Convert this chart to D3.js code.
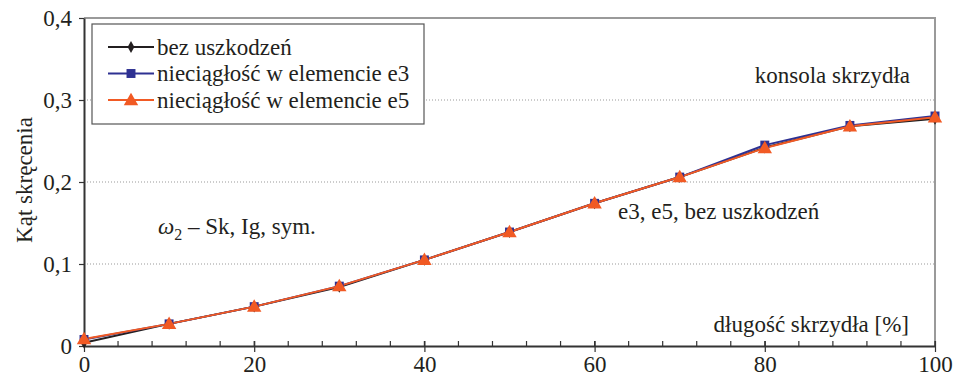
<!DOCTYPE html>
<html>
<head>
<meta charset="utf-8">
<script src="https://cdn.jsdelivr.net/npm/d3@7"></script>
<style>
  body { margin: 0; background: #fff; }
  text { font-family: "Liberation Serif", "DejaVu Serif", serif; fill: #231f20; }
</style>
</head>
<body>
<div id="chart"></div>
<script>
// data
const lengths = [0, 10, 20, 30, 40, 50, 60, 70, 80, 90, 100];
const bezUszkodzen = [0.004, 0.027, 0.048, 0.072, 0.105, 0.139, 0.174, 0.206, 0.242, 0.268, 0.277];
const nieciagloscE3 = [0.008, 0.027, 0.048, 0.073, 0.105, 0.139, 0.174, 0.206, 0.245, 0.269, 0.2805];
const nieciagloscE5 = [0.0085, 0.027, 0.048, 0.073, 0.105, 0.139, 0.174, 0.206, 0.2415, 0.268, 0.279];
const yTicks = [0, 0.1, 0.2, 0.3, 0.4];
const xTicks = [0, 20, 40, 60, 80, 100];
const xMinorTicks = d3.range(0, 101, 4);
const seriesNames = ["bez uszkodzeń", "nieciągłość w elemencie e3", "nieciągłość w elemencie e5"];

const W = 955, H = 379;
const margin = { left: 84, right: 20, top: 18, bottom: 33 };
const width = W - margin.left - margin.right;
const height = H - margin.top - margin.bottom;
const FS = 23;

const svg = d3.select("#chart").append("svg")
  .attr("width", W).attr("height", H);
const g = svg.append("g")
  .attr("transform", "translate(" + margin.left + "," + margin.top + ")");

const x = d3.scaleLinear().domain([0, 100]).range([0, width]);
const y = d3.scaleLinear().domain([0, 0.4]).range([height, 0]);
const fmt = d => d === 0 ? "0" : d3.format(".1f")(d).replace(".", ",");

// grid lines
g.append("g").selectAll("line")
  .data(yTicks.filter(d => d > 0 && d < 0.4))
  .enter().append("line")
  .attr("x1", 0).attr("x2", width)
  .attr("y1", d => y(d)).attr("y2", d => y(d))
  .attr("stroke", "#999").attr("stroke-width", 1)
  .attr("stroke-dasharray", "1,2");

// frame top + right
g.append("path")
  .attr("d", "M0," + y(0.4) + "H" + x(100) + "V" + y(0))
  .attr("fill", "none").attr("stroke", "#9a9a9a").attr("stroke-width", 2);

// x minor ticks (inside)
g.append("g").selectAll("line")
  .data(xMinorTicks)
  .enter().append("line")
  .attr("x1", d => x(d)).attr("x2", d => x(d))
  .attr("y1", height).attr("y2", height - 5)
  .attr("stroke", "#333").attr("stroke-width", 1.2);

// x axis
const xAxis = g.append("g")
  .attr("transform", "translate(0," + height + ")")
  .call(d3.axisBottom(x).tickValues(xTicks).tickSize(6).tickSizeOuter(0));
xAxis.select(".domain").attr("stroke", "#333").attr("stroke-width", 2);
xAxis.selectAll(".tick line").attr("stroke", "#333").attr("stroke-width", 1.2).attr("y1", -5);
xAxis.selectAll(".tick text").attr("font-size", FS).attr("font-family", "Liberation Serif")
  .attr("fill", "#231f20").attr("y", 26).attr("dy", 0);

// y axis
const yAxis = g.append("g")
  .call(d3.axisLeft(y).tickValues(yTicks).tickFormat(fmt).tickSize(5).tickPadding(7).tickSizeOuter(0));
yAxis.select(".domain").attr("stroke", "#333").attr("stroke-width", 2);
yAxis.selectAll(".tick line").attr("stroke", "#333").attr("stroke-width", 1.2);
yAxis.selectAll(".tick text").attr("font-size", FS).attr("font-family", "Liberation Serif").attr("fill", "#231f20");

// series
const colors = ["#231f20", "#2e3192", "#f15a24"];
const allSeries = [bezUszkodzen, nieciagloscE3, nieciagloscE5];
const symbols = [
  d3.symbol().type(d3.symbolDiamond).size(40),
  d3.symbol().type(d3.symbolSquare).size(80),
  d3.symbol().type(d3.symbolTriangle).size(90)
];
const line = d3.line().x((d, i) => x(lengths[i])).y(d => y(d));

allSeries.forEach((vals, k) => {
  g.append("path").datum(vals)
    .attr("fill", "none").attr("stroke", colors[k]).attr("stroke-width", 2)
    .attr("d", line);
});
allSeries.forEach((vals, k) => {
  g.append("g").selectAll("path")
    .data(vals).enter().append("path")
    .attr("d", symbols[k])
    .attr("transform", (d, i) => "translate(" + x(lengths[i]) + "," + (y(d) + (k === 2 ? 1 : 0)) + ")")
    .attr("fill", colors[k]);
});

// legend
const lg = svg.append("g").attr("transform", "translate(92,24)");
lg.append("rect").attr("width", 332).attr("height", 100)
  .attr("fill", "#fff").attr("stroke", "#555").attr("stroke-width", 1.2);
seriesNames.forEach((name, k) => {
  const ly = 23 + k * 26.5;
  lg.append("line").attr("x1", 16).attr("x2", 62).attr("y1", ly).attr("y2", ly)
    .attr("stroke", colors[k]).attr("stroke-width", 2);
  lg.append("path").attr("d", symbols[k])
    .attr("transform", "translate(39," + (ly + (k === 2 ? 1 : 0)) + ")").attr("fill", colors[k]);
  lg.append("text").attr("x", 65).attr("y", ly + 7.5)
    .attr("font-size", FS).text(name);
});

// annotations
svg.append("text").attr("x", 910).attr("y", 83).attr("text-anchor", "end")
  .attr("font-size", FS).text("konsola skrzydła");
svg.append("text").attr("x", 618).attr("y", 219)
  .attr("font-size", FS).text("e3, e5, bez uszkodzeń");
svg.append("text").attr("x", 909).attr("y", 332).attr("text-anchor", "end")
  .attr("font-size", FS).text("długość skrzydła [%]");
const om = svg.append("text").attr("x", 158).attr("y", 234).attr("font-size", FS);
om.append("tspan").attr("font-style", "italic").text("ω");
om.append("tspan").attr("font-size", 16).attr("dy", 6).text("2");
om.append("tspan").attr("dy", -6).text(" – Sk, Ig, sym.");
svg.append("text")
  .attr("transform", "translate(32,180) rotate(-90)")
  .attr("text-anchor", "middle").attr("font-size", FS).text("Kąt skręcenia");
</script>
</body>
</html>
